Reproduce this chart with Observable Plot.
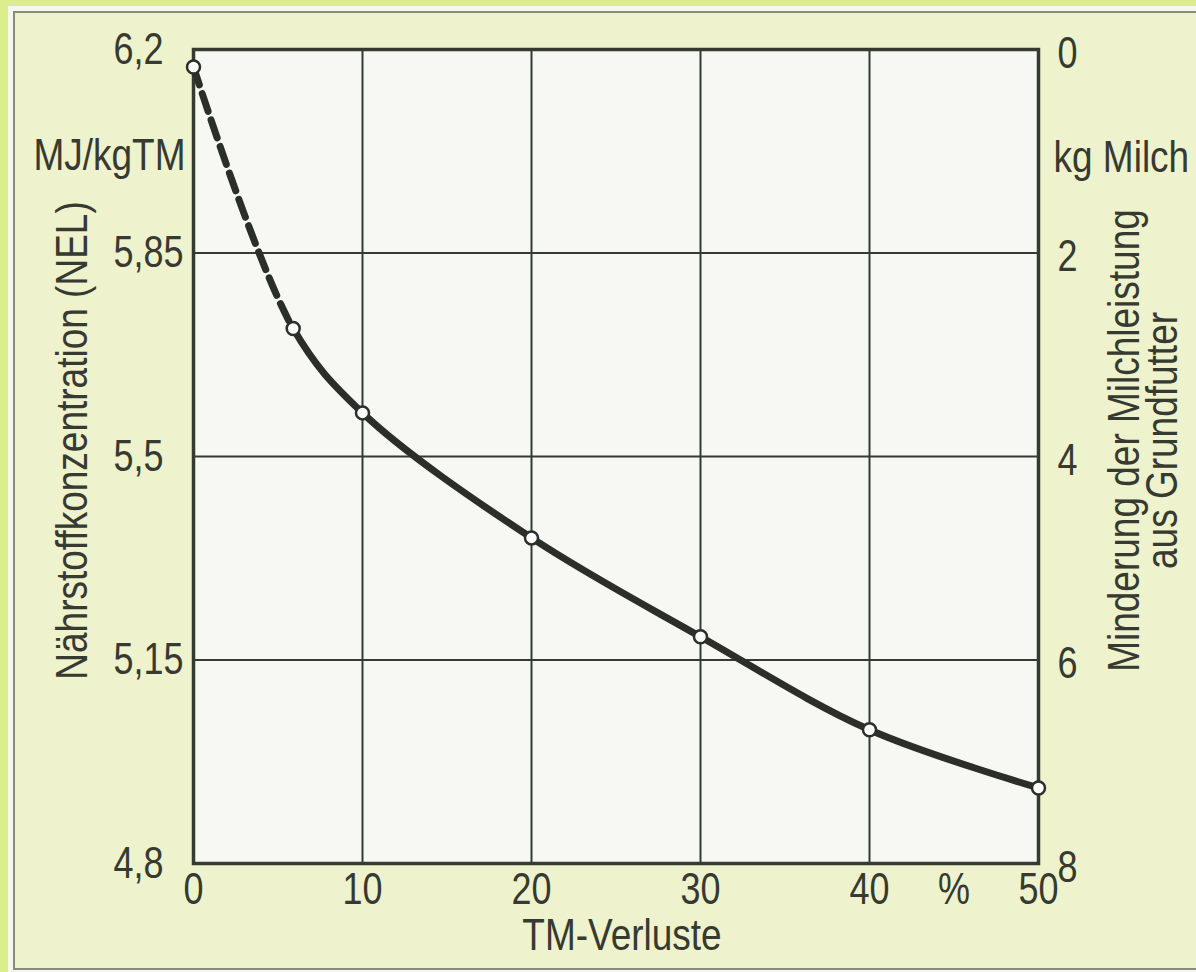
<!DOCTYPE html>
<html>
<head>
<meta charset="utf-8">
<script src="https://cdn.jsdelivr.net/npm/d3@7"></script>
<script src="https://cdn.jsdelivr.net/npm/@observablehq/plot@0.6"></script>
<style>
  html, body { margin: 0; padding: 0; width: 1196px; height: 972px; overflow: hidden; background: #dcee8c; }
  #outer { position: absolute; left: 8px; top: 6px; right: 0; bottom: 0; background: #f6f8ee; }
  #panel { position: absolute; left: 13px; top: 11px; width: 1200px; height: 955px; border: 2px solid #868b7d; background: #eef2cd; }
  #chart { position: absolute; left: 0; top: 0; }
</style>
</head>
<body>
<div id="outer"></div>
<div id="panel"></div>
<div id="chart"></div>
<script>
// ---- data ----
const tmLoss = [0, 5.9, 10, 20, 30, 40, 50];              // TM-Verluste, %
const nel = [6.17, 5.72, 5.575, 5.36, 5.19, 5.03, 4.93];  // MJ/kg TM
const splitX = 5.9;                                        // dashed up to here
const xTicks = [0, 10, 20, 30, 40, 45, 50];
const xGrid = [10, 20, 30, 40];
const yTicks = [4.8, 5.15, 5.5, 5.85, 6.2];
const yGrid = [5.15, 5.5, 5.85];
const milkTicks = [0, 2, 4, 6, 8];                         // kg Milch (right axis)
const milkMax = 8;
const yDomain = [4.8, 6.2];

const pts = tmLoss.map((x, i) => ({x, y: nel[i]}));

const font = '"Liberation Sans", Arial, sans-serif';
const fsTick = 36;
const fsTitle = 37;
const stretch = 1.22;   // the original lettering is taller than Arial
const ink = "#363a31";
const lineInk = "#2b2e29";

const toNel = m => yDomain[1] - m * (yDomain[1] - yDomain[0]) / milkMax;
const fmt = d => String(d).replace(".", ",");

const plot = Plot.plot({
  width: 1196,
  height: 972,
  marginLeft: 193,
  marginRight: 158,
  marginTop: 49,
  marginBottom: 109,
  style: {background: "transparent", color: ink, fontFamily: font},
  x: {domain: [0, 50]},
  y: {domain: yDomain},
  marks: [
    Plot.frame({fill: "#f7f7f4", stroke: "none"}),
    Plot.gridX(xGrid, {stroke: ink, strokeOpacity: 1, strokeWidth: 2}),
    Plot.gridY(yGrid, {stroke: ink, strokeOpacity: 1, strokeWidth: 2}),
    Plot.frame({stroke: ink, strokeWidth: 3.5}),
    Plot.axisX({ticks: xTicks, tickSize: 0, tickPadding: 9, fontSize: fsTick, label: null,
      tickFormat: d => d === 45 ? "%" : String(d)}),
    Plot.axisY({anchor: "left", ticks: yTicks, tickSize: 0, tickPadding: 0, textAnchor: "start", dx: -80,
      fontSize: fsTick, label: null, tickFormat: fmt}),
    Plot.axisY({anchor: "right", ticks: milkTicks.map(toNel), tickSize: 0, tickPadding: 0, textAnchor: "start",
      dx: 19, dy: 4, fontSize: fsTick, label: null,
      tickFormat: d => String(Math.round((yDomain[1] - d) / ((yDomain[1] - yDomain[0]) / milkMax)))}),
    Plot.line(pts, {x: "x", y: "y", curve: "catmull-rom", stroke: lineInk, strokeWidth: 7}),
    Plot.line(pts, {x: "x", y: "y", curve: "catmull-rom", stroke: lineInk, strokeWidth: 7}),
    Plot.dot(pts, {x: "x", y: "y", r: 6.5, fill: "white", stroke: lineInk, strokeWidth: 2.5}),
    Plot.text(["MJ/kgTM"], {frameAnchor: "top-left", textAnchor: "end", lineAnchor: "middle", dx: -8, dy: 106, fontSize: fsTitle, fill: ink}),
    Plot.text(["kg Milch"], {frameAnchor: "top-right", textAnchor: "start", lineAnchor: "middle", dx: 15, dy: 108, fontSize: fsTitle, fill: ink}),
    Plot.text(["Nährstoffkonzentration (NEL)"], {frameAnchor: "left", textAnchor: "middle", lineAnchor: "middle",
      rotate: -90, dx: -121, dy: -16, fontSize: fsTitle, fill: ink}),
    Plot.text(["Minderung der Milchleistung\naus Grundfutter"], {frameAnchor: "right", textAnchor: "middle", lineAnchor: "middle",
      rotate: -90, dx: 107, dy: -16, lineHeight: 0.84, fontSize: fsTitle, fill: ink}),
    Plot.text(["TM-Verluste"], {frameAnchor: "bottom", lineAnchor: "middle", dx: 6, dy: 72, fontSize: fsTitle, fill: ink})
  ]
});

document.getElementById("chart").appendChild(plot);

// stretch lettering vertically (about each text's own anchor)
plot.querySelectorAll("text").forEach(t => {
  const tr = t.getAttribute("transform");
  if (tr && tr.includes("translate")) {
    t.setAttribute("transform", tr + ` scale(1,${stretch})`);
  } else {
    const x = +(t.getAttribute("x") || 0), y = +(t.getAttribute("y") || 0);
    t.setAttribute("transform", `translate(${x},${y}) scale(1,${stretch}) translate(${-x},${-y})` + (tr ? " " + tr : ""));
  }
});

// split the curve at splitX: dashed before, solid after (position from the plot's x scale)
try {
  const xs = plot.scale("x").apply(splitX);
  const paths = plot.querySelectorAll('g[aria-label="line"] path');
  const pd = paths[0], ps = paths[1];
  if (pd && ps && isFinite(xs)) {
    const total = ps.getTotalLength();
    let lo = 0, hi = total;
    for (let i = 0; i < 40; i++) {
      const mid = (lo + hi) / 2;
      if (ps.getPointAtLength(mid).x < xs) lo = mid; else hi = mid;
    }
    const L = lo;
    const dash = 19, gap = 9;
    const pat = [];
    let acc = 0;
    while (acc + dash < L) { pat.push(dash, gap); acc += dash + gap; }
    pat.push(Math.max(0, L - acc), total + 100);
    pd.setAttribute("stroke-dasharray", pat.join(","));
    ps.setAttribute("stroke-dasharray", "0," + L.toFixed(2) + "," + (total + 100));
    ps.setAttribute("stroke-linecap", "round");
  }
} catch (e) {}
</script>
</body>
</html>
